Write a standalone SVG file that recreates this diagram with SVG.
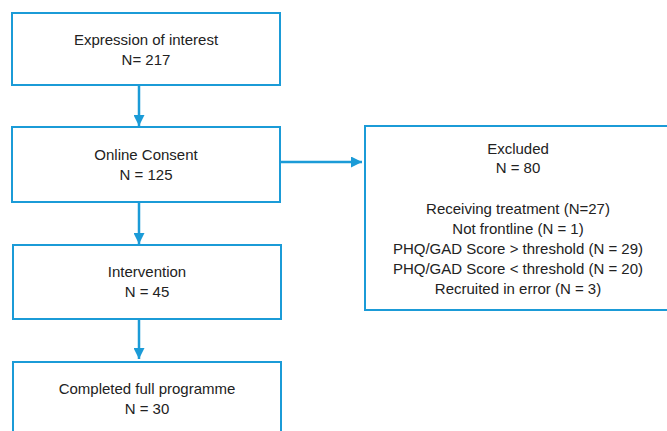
<svg xmlns="http://www.w3.org/2000/svg" width="667" height="431" viewBox="0 0 667 431">
<defs>
<style>
.box{fill:#fff;stroke:#1b9bd7;stroke-width:2}
.t{font-family:"Liberation Sans",Arial,sans-serif;font-size:15px;fill:#222;text-anchor:middle}
.c{stroke:#1b9bd7;stroke-width:2.5;fill:none}
</style>
<marker id="ah" viewBox="0 0 10 10" refX="10" refY="5" markerWidth="4.4" markerHeight="4.4" markerUnits="strokeWidth" orient="auto">
<path d="M0,0 L10,5 L0,10 z" fill="#1b9bd7"/>
</marker>
</defs>
<rect width="667" height="431" fill="#fff"/>
<g id="n1"><rect class="box" x="12" y="13" width="268" height="72"/>
<text class="t" x="146" y="45">Expression of interest</text><text class="t" x="146" y="65">N= 217</text></g>
<g id="n2"><rect class="box" x="12" y="127" width="268" height="75"/>
<text class="t" x="146" y="160">Online Consent</text><text class="t" x="146" y="180">N = 125</text></g>
<g id="n3"><rect class="box" x="13" y="245" width="268" height="74"/>
<text class="t" x="147" y="277">Intervention</text><text class="t" x="147" y="297">N = 45</text></g>
<g id="n4"><rect class="box" x="13" y="362" width="268" height="80"/>
<text class="t" x="147" y="394">Completed full programme</text><text class="t" x="147" y="414">N = 30</text></g>
<g id="n5"><rect class="box" x="365" y="126" width="310" height="184"/>
<text class="t" x="518" y="154">Excluded</text><text class="t" x="518" y="173">N = 80</text>
<text class="t" x="518" y="214">Receiving treatment (N=27)</text>
<text class="t" x="518" y="234">Not frontline (N = 1)</text>
<text class="t" x="518" y="254">PHQ/GAD Score &gt; threshold (N = 29)</text>
<text class="t" x="518" y="274">PHQ/GAD Score &lt; threshold (N = 20)</text>
<text class="t" x="518" y="294">Recruited in error (N = 3)</text></g>
<g id="connectors">
<line class="c" x1="139" y1="86" x2="139" y2="126" marker-end="url(#ah)"/>
<line class="c" x1="139" y1="203" x2="139" y2="244" marker-end="url(#ah)"/>
<line class="c" x1="139" y1="320" x2="139" y2="359" marker-end="url(#ah)"/>
<line class="c" x1="281" y1="162" x2="362" y2="162" marker-end="url(#ah)"/>
</g>
</svg>
